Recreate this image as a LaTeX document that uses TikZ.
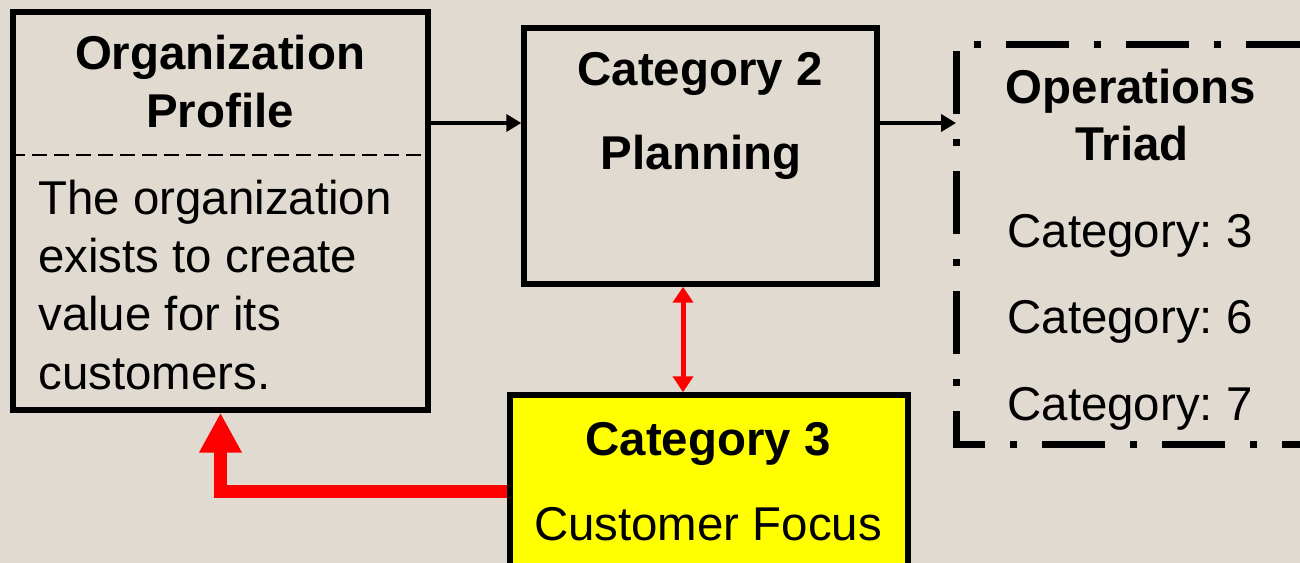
\documentclass[tikz,border=0pt]{standalone}
\usepackage{fontspec}
\setmainfont{Liberation Sans}
\usetikzlibrary{arrows.meta,calc,positioning}
\definecolor{mybeige}{RGB}{225,218,208}
\definecolor{myyellow}{RGB}{255,255,0}
\definecolor{myred}{RGB}{255,0,0}
\frenchspacing

\begin{document}
\begin{tikzpicture}[
  x=0.02cm,
  y=-0.02cm,
  mybox/.style={
    draw,
    rectangle,
    line width=0.11cm,
    inner sep=0pt
    },
  mytext/.style={
    anchor=base,
    inner sep=0pt,
    font=\fontsize{27}{33}\selectfont
    },
  mytitle/.style={
    mytext,
    font=\fontsize{27}{33}\selectfont\bfseries
    },
  myarrow/.style={
    line width=0.08cm,
    -{Triangle[length=0.3cm,width=0.34cm]}
    },
  mylink/.style={
    myred,
    line width=0.1cm,
    {Triangle[length=0.32cm,width=0.4cm]}-{Triangle[length=0.32cm,width=0.4cm]}
    },
  myfeedback/.style={
    myred,
    line width=0.26cm,
    -{Triangle[length=0.8cm,width=0.8cm]}
    },
  mytriad/.style={
    line width=0.14cm,
    dash pattern=on 1.26cm off 0.5cm on 0.14cm off 0.5cm,
    dash phase=1.3cm
    }
]

\useasboundingbox[fill=mybeige] (0,0) rectangle (1300,563);

\node[mybox, minimum width=8.3cm, minimum height=7.96cm] (org) at (220.5,211) {};
\node[mybox, minimum width=7.06cm, minimum height=5.12cm] (cat2) at (700.5,156) {};
\node[mybox, fill=myyellow, minimum width=7.96cm, minimum height=3.84cm] (focus) at (709,491) {};
\node[rectangle, inner sep=0pt, outer sep=0pt, minimum width=8.88cm, minimum height=8.02cm] (triad) at (1178,244.5) {};

% organization profile
\draw[line width=0.04cm, dash pattern=on 0.3cm off 0.14cm] (org.west |- 0,155) -- (org.east |- 0,155);
\node[mytitle] (orgtitle) at (220,70) {Organization};
\node[mytitle] (orgprofile) at (220,128) {Profile};
\foreach \Line [count=\Linei from 0] in {The organization, exists to create, value for its, customers.}
  \node[mytext, anchor=base west] (orgline\Linei) at (38,215+58*\Linei) {\Line};

% planning
\node[mytitle] (cat2title) at (700,86) {Category 2};
\node[mytitle] (cat2name) at (701,170) {Planning};

% customer focus
\node[mytitle] (focustitle) at (708,455) {Category 3};
\node[mytext] (focusname) at (708,540) {Customer Focus};

% operations triad
\draw[mytriad] (triad.south east) -- (triad.south west) -- (triad.north west) -- (triad.north east);
\node[mytitle] (triadtitle) at (1131,104) {Operations};
\node[mytitle] (triadname) at (1132,161) {Triad};
\foreach \Valor [count=\Valori from 0] in {3, 6, 7}
  \node[mytext] (triadcat\Valor) at (1130,248+86*\Valori) {Category: \Valor};

% connectors
\coordinate (flow) at (0,123);
\coordinate (link) at (683,0);
\draw[myarrow] (org.east |- flow) -- (cat2.west |- flow);
\draw[myarrow] (cat2.east |- flow) -- (triad.west |- flow);
\draw[mylink] (cat2.south -| link) -- (focus.north -| link);
\draw[myfeedback] (focus.west) -| (org.south);

\end{tikzpicture}
\end{document}
